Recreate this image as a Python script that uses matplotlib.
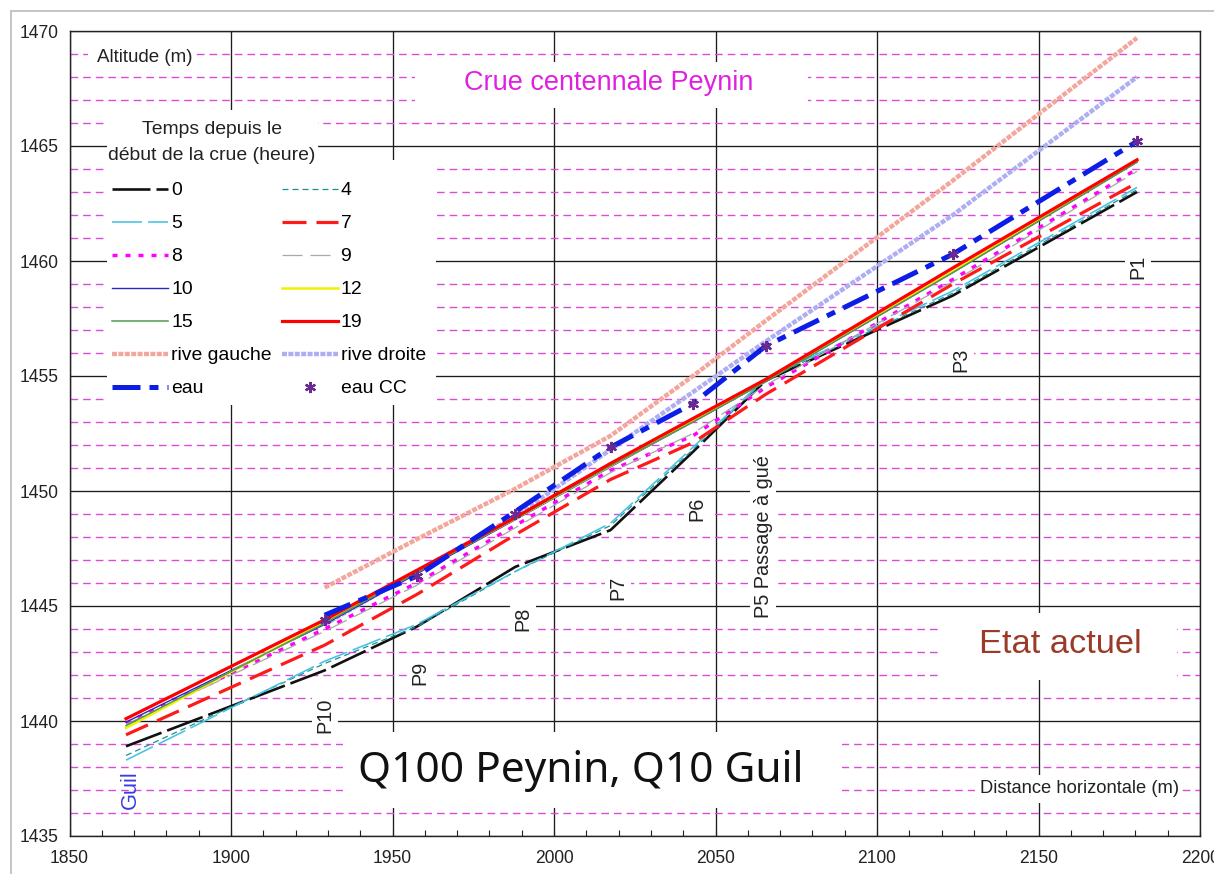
import matplotlib
matplotlib.use("Agg")
import matplotlib.pyplot as plt
import matplotlib.font_manager as fm
from matplotlib.patches import Rectangle

# ---------------- data ----------------
# simulation lines: Guil confluence + profiles P10 ... P1
dist_sim = [1867.5, 1929, 1957.5, 1988, 2017.5, 2043, 2065.5, 2123.5, 2180.5]
h0 = [1438.9, 1442.2, 1444.1, 1446.7, 1448.3, 1451.7, 1454.8, 1458.5, 1463.0]
h4 = [1438.5, 1442.5, 1444.1, 1446.5, 1448.5, 1451.8, 1454.85, 1458.6, 1463.1]
h5 = [1438.3, 1442.6, 1444.2, 1446.5, 1448.6, 1451.9, 1454.9, 1458.7, 1463.2]
h7 = [1439.4, 1443.3, 1445.5, 1448.1, 1450.5, 1452.1, 1454.2, 1459.0, 1463.4]
h8 = [1439.9, 1444.0, 1446.0, 1448.5, 1450.9, 1452.4, 1454.5, 1459.2, 1464.0]
h9 = [1439.85, 1443.9, 1445.9, 1448.4, 1450.8, 1452.5, 1454.6, 1459.1, 1463.9]
h10 = [1439.95, 1444.2, 1446.4, 1448.75, 1451.05, 1453.0, 1454.75, 1459.5, 1464.3]
h12 = [1439.7, 1444.3, 1446.5, 1448.8, 1451.1, 1453.05, 1454.8, 1459.55, 1464.35]
h15 = [1439.8, 1444.25, 1446.45, 1448.8, 1451.1, 1453.0, 1454.75, 1459.5, 1464.3]
h19 = [1440.1, 1444.4, 1446.55, 1448.85, 1451.2, 1453.15, 1454.85, 1459.7, 1464.4]

# profiles P10 ... P1
dist_prof = [1929, 1957.5, 1988, 2017.5, 2043, 2065.5, 2123.5, 2180.5]
rive_gauche = [1445.8, 1447.9, 1450.1, 1452.4, 1455.0, 1457.4, 1463.5, 1469.7]
rive_droite = [1444.2, 1446.5, 1448.9, 1451.8, 1454.3, 1456.5, 1462.0, 1468.0]
eau = [1444.6, 1446.3, 1449.1, 1451.9, 1453.8, 1456.3, 1460.3, 1465.2]
eau_cc = [1444.4, 1446.3, 1449.0, 1451.9, 1453.8, 1456.3, 1460.3, 1465.2]

profile_labels = ["P10", "P9", "P8", "P7", "P6", "P5 Passage à gué", "P3", "P1"]
x_ticks = [1850, 1900, 1950, 2000, 2050, 2100, 2150, 2200]
y_ticks = [1435, 1440, 1445, 1450, 1455, 1460, 1465, 1470]

# ---------------- fonts ----------------
def has_font(name):
    try:
        fm.findfont(fm.FontProperties(family=name), fallback_to_default=False)
        return True
    except Exception:
        return False

if has_font("Liberation Sans Narrow"):
    FONT, SC = "Liberation Sans Narrow", 1.0
else:
    FONT, SC = "Liberation Sans", 0.87
plt.rcParams["font.family"] = [FONT, "DejaVu Sans"]

def fs(v):
    return v * SC

# ---------------- figure ----------------
W, H = 1214, 874
fig = plt.figure(figsize=(W / 100, H / 100), dpi=100)
ax = fig.add_axes([69.5 / W, 38 / H, 1130.5 / W, 805 / H])
ax.set_xlim(1850, 2200)
ax.set_ylim(1435, 1470)

# outer grey frame
fig.add_artist(Rectangle((11 / W, -0.05), 1.2, (H - 11) / H + 0.05,
                         transform=fig.transFigure, fill=False,
                         edgecolor="#c4c4c4", lw=1.4, zorder=0))

ax.set_xticks(x_ticks)
ax.set_yticks(y_ticks)
ax.set_xticks(range(1850, 2201, 10), minor=True)
ax.set_yticks([v for v in range(1435, 1471) if v % 5], minor=True)
ax.set_axisbelow(True)
ax.grid(which="major", color="#1c1c1c", lw=0.95)
ax.grid(which="minor", axis="y", color="#d94cd9", lw=1.0, linestyle=(0, (5.5, 3.6)))
ax.tick_params(axis="x", which="both", direction="in", length=4.5, width=0.8,
               color="#222222", labelsize=fs(14.5), pad=10, labelcolor="#222222")
ax.tick_params(axis="y", which="both", length=0, labelsize=fs(14.5), pad=8,
               labelcolor="#222222")
for sp in ax.spines.values():
    sp.set_linewidth(1.0)
    sp.set_color("#222222")

axf = ax.transAxes

def white_box(x0, y0, x1, y1):
    ax.add_patch(Rectangle((x0, y0), x1 - x0, y1 - y0, transform=axf,
                           facecolor="white", edgecolor="none", zorder=1.2))

white_box(0.0164, 0.9491, 0.1110, 0.9814)   # Altitude
white_box(0.3056, 0.9044, 0.6533, 0.9615)   # Crue centennale
white_box(0.0332, 0.8298, 0.2198, 0.9019)   # legend title
white_box(0.0332, 0.5354, 0.3242, 0.8398)   # legend entries
white_box(0.7682, 0.1938, 0.9797, 0.2770)   # Etat actuel
white_box(0.2419, 0.0348, 0.6833, 0.1292)   # Q100
white_box(0.8010, 0.0410, 0.9841, 0.0758)   # Distance

# ---------------- series ----------------
def dsh(px_list, lw_pt):
    return (0, tuple(p * 0.72 / lw_pt for p in px_list))

lines = {}
lines["rive gauche"], = ax.plot(dist_prof, rive_gauche, color="#f2a69c", lw=3.2,
                                linestyle=dsh([5, 1.4], 3.2), label="rive gauche", zorder=2.0)
lines["rive droite"], = ax.plot(dist_prof, rive_droite, color="#aeaef2", lw=3.2,
                                linestyle=dsh([5, 1.4], 3.2), label="rive droite", zorder=2.0)
lines["0"], = ax.plot(dist_sim, h0, color="#111111", lw=1.9, linestyle=dsh([38, 6], 1.9), label="0", zorder=2.1)
lines["4"], = ax.plot(dist_sim, h4, color="#1f8f8f", lw=0.9, linestyle=dsh([6, 4], 0.9), label="4", zorder=2.11)
lines["5"], = ax.plot(dist_sim, h5, color="#45c3e2", lw=1.15, linestyle=dsh([30, 6], 1.15), label="5", zorder=2.12)
lines["7"], = ax.plot(dist_sim, h7, color="#ff1a1a", lw=2.3, linestyle=dsh([24, 10], 2.3), label="7", zorder=2.13)
lines["8"], = ax.plot(dist_sim, h8, color="#ff00ff", lw=2.5, linestyle=dsh([5, 8], 2.5), label="8", zorder=2.14)
lines["9"], = ax.plot(dist_sim, h9, color="#a8a8a8", lw=0.9, linestyle=dsh([20, 8], 0.9), label="9", zorder=2.15)
lines["10"], = ax.plot(dist_sim, h10, color="#2828c8", lw=1.0, label="10", zorder=2.16)
lines["12"], = ax.plot(dist_sim, h12, color="#f2f200", lw=1.8, label="12", zorder=2.17)
lines["15"], = ax.plot(dist_sim, h15, color="#4f9a4f", lw=1.1, label="15", zorder=2.18)
lines["19"], = ax.plot(dist_sim, h19, color="#ff0000", lw=2.3, label="19", zorder=2.19)
lines["eau"], = ax.plot(dist_prof, eau, color="#0c1ee6", lw=3.6,
                        linestyle=dsh([28, 9, 9, 9], 3.6), label="eau", zorder=2.6)
lines["eau CC"], = ax.plot(dist_prof, eau_cc, linestyle="none", marker=(6, 2, 0),
                           ms=8, mew=1.6, color="#6a2a90", label="eau CC", zorder=2.7)

# ---------------- legend ----------------
leg_fs = fs(16)
fpx = leg_fs * 100 / 72
order = ["0", "5", "8", "10", "15", "rive gauche", "eau",
         "4", "7", "9", "12", "19", "rive droite", "eau CC"]
leg = ax.legend([lines[k] for k in order], order, ncol=2, loc="upper left",
                bbox_to_anchor=(0.0376, 0.8125), frameon=False, fontsize=leg_fs,
                borderpad=0, borderaxespad=0, handlelength=56 / fpx,
                handletextpad=3 / fpx, columnspacing=10 / fpx, labelspacing=0.8)
leg.set_zorder(5)
ax.text(0.1262, 0.8610, "Temps depuis le\ndébut de la crue (heure)", transform=axf,
        ha="center", va="center", multialignment="center", fontsize=leg_fs,
        linespacing=1.7, color="#222222", zorder=5)

# ---------------- annotations ----------------
ax.text(0.0243, 0.9677, "Altitude (m)", transform=axf, ha="left", va="center",
        fontsize=fs(15.5), color="#222222", zorder=5)
ax.text(0.4772, 0.9354, "Crue centennale Peynin", transform=axf, ha="center", va="center",
        fontsize=fs(22.5), color="#e020e0", zorder=5)
ax.text(0.8762, 0.2373, "Etat actuel", transform=axf, ha="center", va="center",
        fontsize=fs(28.5), color="#9c3a2a", zorder=5)
ax.text(0.4525, 0.0807, "Q100 Peynin, Q10 Guil", transform=axf, ha="center", va="center",
        fontsize=30.5, family=["Noto Sans", "DejaVu Sans"], color="#111111", zorder=5)
ax.text(0.8054, 0.0596, "Distance horizontale (m)", transform=axf, ha="left", va="center",
        fontsize=fs(15.2), color="#222222", zorder=5)
ax.text(0.0535, 0.0571, "Guil", transform=axf, ha="center", va="center", rotation=90,
        fontsize=fs(18), color="#3a3ae0", zorder=5)

prof_pos = [(0.2260, 0.1503), (0.3100, 0.2029), (0.4014, 0.2704), (0.4854, 0.3083),
            (0.5548, 0.4070), (0.6137, 0.3718), (0.7888, 0.5919), (0.9452, 0.7072)]
for lab, (px, py) in zip(profile_labels, prof_pos):
    ax.text(px, py, lab, transform=axf, ha="center", va="center", rotation=90,
            fontsize=fs(16.5), color="#222222", zorder=1.8,
            bbox=dict(facecolor="white", edgecolor="none", pad=2.5))

fig.savefig("out.png", dpi=100)
